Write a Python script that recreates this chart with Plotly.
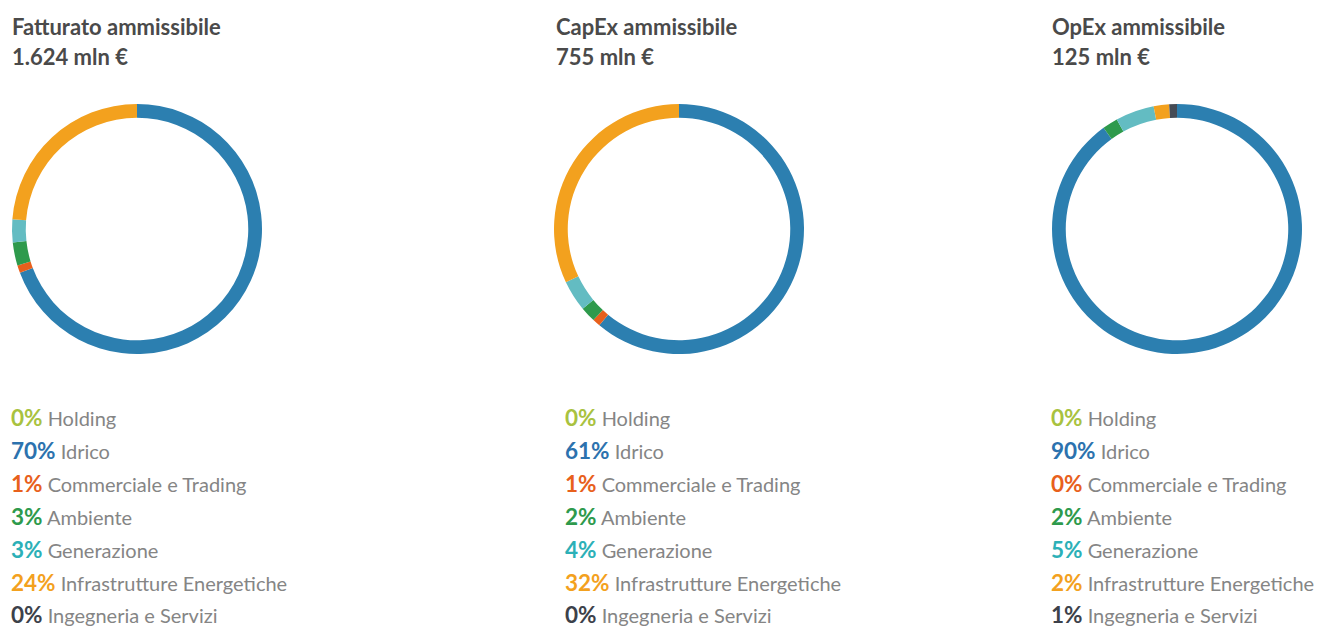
import plotly.graph_objects as go

# Segment names shared by the three rings (clockwise order from 12 o'clock)
categories = ["Holding", "Idrico", "Commerciale e Trading", "Ambiente",
              "Generazione", "Infrastrutture Energetiche", "Ingegneria e Servizi"]

titles = ["Fatturato ammissibile", "CapEx ammissibile", "OpEx ammissibile"]
totals = ["1.624 mln €", "755 mln €", "125 mln €"]

fatturato_pct = [0, 70, 1, 3, 3, 24, 0]
capex_pct = [0, 61, 1, 2, 4, 32, 0]
opex_pct = [0, 90, 0, 2, 5, 2, 1]

series = [fatturato_pct, capex_pct, opex_pct]

ring_colors = ["#a9c23f", "#2c7fb0", "#e8601c", "#2e9a4c", "#63bcc2", "#f3a11e", "#454b55"]
text_colors = ["#a9c23f", "#2c72ae", "#e8601c", "#2e9a4c", "#2cb0b7", "#f3a11e", "#3c414a"]

W, H = 1317, 630
FONT = "Lato"

# panel layout (pixels)
ring_cx = [137, 679, 1177]
ring_cy = 229
ring_r = 125
text_x = [10, 554, 1050]
legend_x = [10, 564, 1050]
row_top, row_step = 417.5, 32.9

fig = go.Figure()

for i, vals in enumerate(series):
    cx = ring_cx[i]
    fig.add_trace(go.Pie(
        labels=categories,
        values=vals,
        sort=False,
        direction="clockwise",
        rotation=0,
        hole=0.89,
        marker=dict(colors=ring_colors, line=dict(width=0)),
        textinfo="none",
        hoverinfo="label+percent",
        showlegend=False,
        domain=dict(x=[(cx - ring_r) / W, (cx + ring_r) / W],
                    y=[1 - (ring_cy + ring_r) / H, 1 - (ring_cy - ring_r) / H]),
    ))

annotations = []
for i in range(3):
    annotations.append(dict(
        x=text_x[i] / W, y=1 - 27 / H, xref="paper", yref="paper",
        xanchor="left", yanchor="middle", showarrow=False,
        text="<b>" + titles[i] + "</b>",
        font=dict(family=FONT, size=22, color="#4a4a4a")))
    annotations.append(dict(
        x=text_x[i] / W, y=1 - 56 / H, xref="paper", yref="paper",
        xanchor="left", yanchor="middle", showarrow=False,
        text="<b>" + totals[i] + "</b>",
        font=dict(family=FONT, size=22, color="#4a4a4a")))
    for k, cat in enumerate(categories):
        yc = row_top + k * row_step
        annotations.append(dict(
            x=legend_x[i] / W, y=1 - yc / H, xref="paper", yref="paper",
            xanchor="left", yanchor="middle", showarrow=False, borderpad=0,
            text=f"<b><span style='color:{text_colors[k]};font-size:22.5px'>{series[i][k]}%</span></b>"
                 f" <span style='color:#858585'>{cat}</span>",
            font=dict(family=FONT, size=20, color="#858585")))

fig.update_layout(
    width=W, height=H,
    margin=dict(l=0, r=0, t=0, b=0),
    paper_bgcolor="white",
    plot_bgcolor="white",
    annotations=annotations,
)

fig.write_html("out.html")
